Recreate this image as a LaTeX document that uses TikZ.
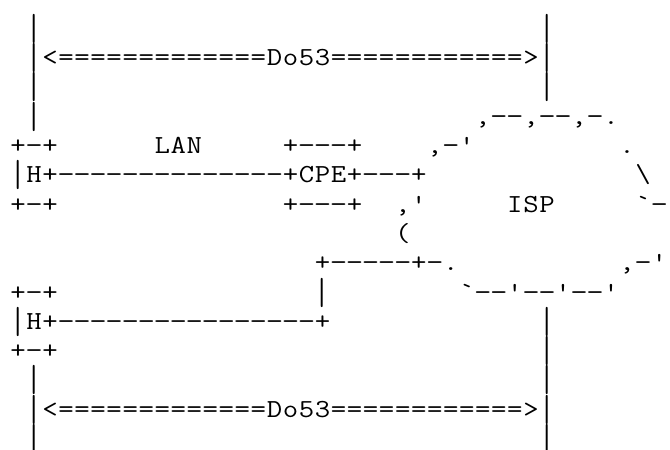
\documentclass[tikz,border=0pt]{standalone}
\usepackage{graphicx}
\newlength\artcw
\setlength\artcw{16.03pt}
\ExplSyntaxOn
\NewDocumentCommand \artcells { m }
  { \tl_map_inline:nn {#1}
    { \makebox[\artcw][c]{ \str_if_eq:nnTF {##1} {-} { \scalebox{1.3}[1]{-} } { \scalebox{1.15}[1]{##1} } } } }
\ExplSyntaxOff
\newcommand\vb{\raisebox{-7.15pt}{\resizebox*{\width}{29.3pt}{\raisebox{\depth}{|}}}}
\newcommand\artrun[4]{\node[art] (#1) at ({9.985+16.03*#2},{36.3+29.3*#3}) {\artcells{#4}};}
\tikzset{art/.style={inner sep=0pt, outer sep=0pt, anchor=base west,
  font=\ttfamily\fontsize{26}{29}\selectfont, text=black}}
\begin{document}
\begin{tikzpicture}[x=1pt,y=-1pt]
\useasboundingbox (0,0) rectangle (670,450);
\fill[white] (0,0) rectangle (670,450);
% top Do53
\artrun{tl0}{1}{0}{\vb}
\artrun{tr0}{33}{0}{\vb}
\artrun{tl1}{1}{1}{\vb}
\artrun{topdo}{2}{1}{<=============Do53============>}
\artrun{tr1}{33}{1}{\vb}
\artrun{tl2}{1}{2}{\vb}
\artrun{tr2}{33}{2}{\vb}
\artrun{tl3}{1}{3}{\vb}
\artrun{isp3}{29}{3}{,--,--,-.}
% LAN host and CPE
\artrun{h1top}{0}{4}{+-+}
\artrun{lan}{9}{4}{LAN}
\artrun{cpetop}{17}{4}{+---+}
\artrun{isp4a}{26}{4}{,-\textquotesingle}
\artrun{isp4b}{38}{4}{.}
\artrun{h1mid}{0}{5}{\vb H+--------------+CPE+---+}
\artrun{isp5}{39}{5}{\textbackslash}
\artrun{h1bot}{0}{6}{+-+}
\artrun{cpebot}{17}{6}{+---+}
\artrun{isp6a}{24}{6}{,\textquotesingle}
\artrun{isp}{31}{6}{ISP}
\artrun{isp6b}{39}{6}{\textasciigrave-}
\artrun{isp7}{24}{7}{(}
\artrun{link8}{19}{8}{+-----+-.}
\artrun{isp8}{38}{8}{,-\textquotesingle}
\artrun{h2top}{0}{9}{+-+}
\artrun{link9}{19}{9}{\vb}
\artrun{isp9}{28}{9}{\textasciigrave--\textquotesingle--\textquotesingle--\textquotesingle}
\artrun{h2mid}{0}{10}{\vb H+----------------+}
\artrun{br10}{33}{10}{\vb}
\artrun{h2bot}{0}{11}{+-+}
\artrun{br11}{33}{11}{\vb}
% bottom Do53
\artrun{bl12}{1}{12}{\vb}
\artrun{br12}{33}{12}{\vb}
\artrun{bl13}{1}{13}{\vb}
\artrun{botdo}{2}{13}{<=============Do53============>}
\artrun{br13}{33}{13}{\vb}
\artrun{bl14}{1}{14}{\vb}
\artrun{br14}{33}{14}{\vb}
\end{tikzpicture}
\end{document}
